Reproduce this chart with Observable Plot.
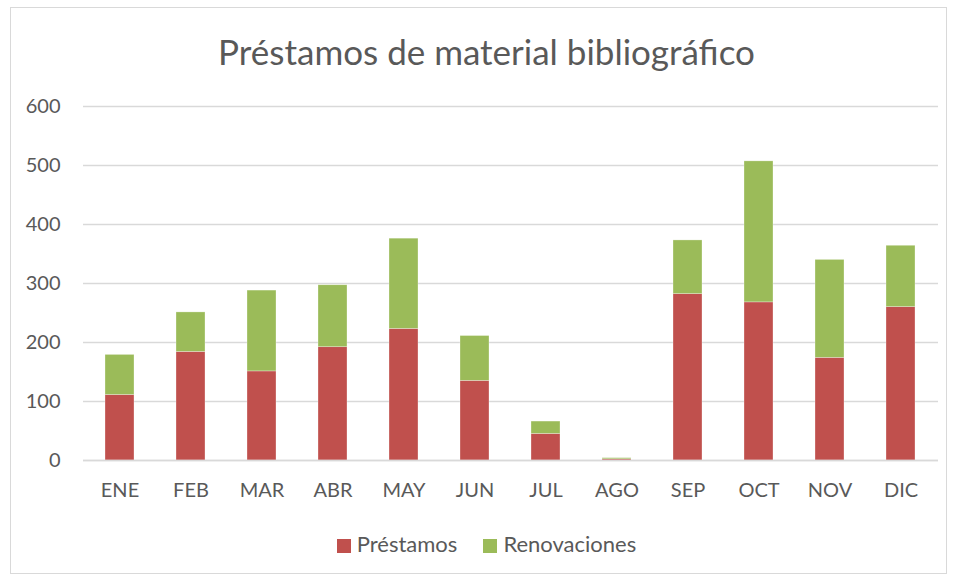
<!DOCTYPE html>
<html><head><meta charset="utf-8">
<script src="https://cdn.jsdelivr.net/npm/d3@7"></script>
<script src="https://cdn.jsdelivr.net/npm/@observablehq/plot@0.6"></script>
<style>
body{margin:0;background:#fff;font-family:Lato,"Open Sans",sans-serif;}
#frame{position:absolute;left:10px;top:7px;width:937px;height:567px;border:1px solid #d9d9d9;box-sizing:border-box;}
#title{position:absolute;left:0;width:973px;top:30px;text-align:center;font-size:35px;color:#595959;}
#chart{position:absolute;left:10px;top:90px;}
#legend{position:absolute;left:0;width:973px;top:530px;text-align:center;font-size:22px;color:#595959;}
#legend span.sw{display:inline-block;width:14px;height:14px;margin-right:6px;vertical-align:-1px;}
#legend span.it{margin:0 13px;}
</style></head>
<body>
<div id="frame"></div>
<div id="title">Préstamos de material bibliográfico</div>
<div id="chart"></div>
<div id="legend"></div>
<script>
const months = ["ENE","FEB","MAR","ABR","MAY","JUN","JUL","AGO","SEP","OCT","NOV","DIC"];
const prestamos = [111,184,151,192,223,135,45,2,282,268,174,260];
const renovaciones = [68,67,137,105,153,76,21,2,91,239,166,104];
const seriesNames = ["Préstamos","Renovaciones"];
const seriesColors = ["#C0504D","#9BBB59"];
const yTicks = [0,100,200,300,400,500,600];

const data = [];
months.forEach((m,i)=>{
  data.push({month:m, series:seriesNames[0], value:prestamos[i]});
  data.push({month:m, series:seriesNames[1], value:renovaciones[i]});
});

const chart = Plot.plot({
  width: 938, height: 420,
  marginTop: 16, marginBottom: 50, marginLeft: 73, marginRight: 10,
  style: {fontFamily: "Lato, 'Open Sans', sans-serif", fontSize: "20px", color: "#595959", background: "transparent"},
  x: {domain: months, paddingInner: 0.59, paddingOuter: 0.295, label: null, tickSize: 0, tickPadding: 22},
  y: {domain: [0,600], ticks: yTicks, label: null, tickSize: 0, tickPadding: 23},
  color: {domain: seriesNames, range: seriesColors},
  marks: [
    Plot.ruleY(yTicks, {stroke: "#d9d9d9", strokeWidth: 1.3, strokeOpacity: 1}),
    Plot.barY(data, {x: "month", y: "value", fill: "series", stroke: "#fff", strokeOpacity: 0.5, strokeWidth: 0.6}),
    Plot.ruleY([0], {stroke: "#d9d9d9", strokeWidth: 1.3})
  ]
});
document.getElementById("chart").appendChild(chart);

const legend = document.getElementById("legend");
seriesNames.forEach((s,i)=>{
  const it = document.createElement("span");
  it.className = "it";
  const sw = document.createElement("span");
  sw.className = "sw"; sw.style.background = seriesColors[i];
  it.appendChild(sw);
  it.appendChild(document.createTextNode(s));
  legend.appendChild(it);
});
</script>
</body></html>
